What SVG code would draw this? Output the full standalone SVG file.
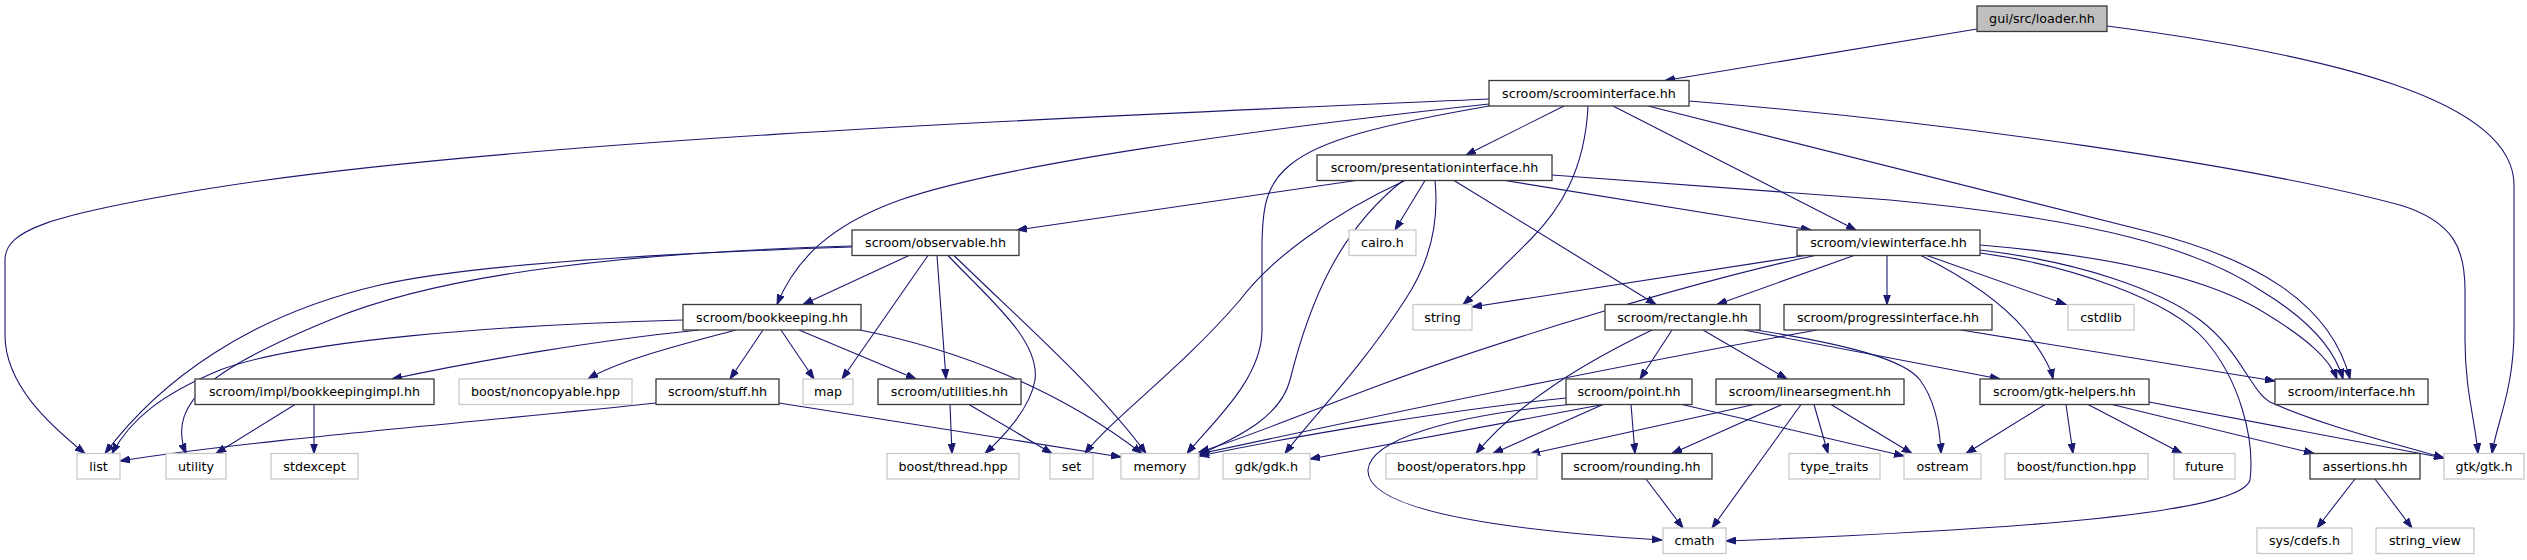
<svg xmlns="http://www.w3.org/2000/svg" width="2527" height="560" viewBox="0 0 2527 560">
<style>
.n rect{fill:#fff;stroke:#3a3a3a;stroke-width:1.3}
.x rect{fill:#fff;stroke:#c8c8c8;stroke-width:1.3}
.c rect{fill:#bfbfbf;stroke:#3a3a3a;stroke-width:1.3}
text{font-family:"DejaVu Sans",sans-serif;font-size:12.7px;fill:#000;text-anchor:middle}
#edges path{fill:none;stroke:#191970;stroke-width:1.1;marker-end:url(#a)}
</style>
<defs>
<marker id="a" markerWidth="11" markerHeight="8" refX="10" refY="4" orient="auto" markerUnits="userSpaceOnUse"><path d="M0,0.5 L10,4 L0,7.5 z" fill="#191970" stroke="#191970" stroke-width="1"/></marker>
</defs>
<rect width="2527" height="560" fill="#fff"/>
<g id="edges">
<path d="M1977,29 L1665,80.5"/>
<path d="M2107,26 C2330,55 2514,100 2514,185 L2514,330 C2514,390 2496,425 2492,453.5"/>
<path d="M1489,99 C1100,116 500,140 200,190 C50,215 5,230 5,260 L5,335 C5,385 50,425 85,453.5"/>
<path d="M1489,104 C1250,130 1000,165 900,200 C830,225 795,260 777,304.5"/>
<path d="M1489,106 C1380,125 1320,140 1290,165 C1265,185 1262,210 1262,250 L1262,330 C1262,380 1210,425 1187,453.5"/>
<path d="M1564,106 L1466,155"/>
<path d="M1588,106 C1585,170 1560,210 1530,240 C1500,270 1480,290 1463,304.5"/>
<path d="M1613,106 L1856,230"/>
<path d="M1648,106 L2150,232 C2250,258 2330,300 2350,379"/>
<path d="M1689,101 C1950,122 2250,165 2400,205 C2455,222 2465,250 2465,290 L2465,340 C2465,390 2475,420 2478,453.5"/>
<path d="M1356,180.5 L1017,230"/>
<path d="M1405,180.5 C1330,215 1270,260 1240,300 C1180,370 1110,420 1085,453.5"/>
<path d="M1403,180.5 C1340,230 1310,300 1290,380 C1280,420 1230,440 1199,455"/>
<path d="M1425,180.5 L1395,230"/>
<path d="M1435,180.5 C1440,230 1425,270 1405,300 C1360,370 1310,420 1285,453.5"/>
<path d="M1454,180.5 L1656,304.5"/>
<path d="M1505,180.5 L1811,230"/>
<path d="M1552,175 L1890,200 C2100,220 2200,250 2260,290 C2310,320 2335,350 2343,379"/>
<path d="M1980,245 C2100,255 2200,275 2260,310 C2310,340 2330,360 2337,379"/>
<path d="M1980,250 C2080,262 2160,290 2200,320 C2240,350 2250,390 2270,402 C2320,425 2400,445 2444,458"/>
<path d="M1980,253 C2070,265 2170,300 2205,340 C2240,380 2255,440 2250,480 C2240,515 2000,530 1726,541"/>
<path d="M1921,255.5 C1960,275 2000,300 2025,330 C2040,350 2050,365 2053,379"/>
<path d="M1927,255.5 L2066,304.5"/>
<path d="M1887,255.5 L1887,304.5"/>
<path d="M1854,255.5 L1717,304.5"/>
<path d="M1805,255.5 L1472,307"/>
<path d="M1815,255.5 C1700,280 1500,340 1380,385 C1300,415 1240,440 1199,452"/>
<path d="M909,255.5 L803,304.5"/>
<path d="M928,255.5 L842,379"/>
<path d="M937,255.5 L946,379"/>
<path d="M948,255.5 C990,300 1040,340 1035,380 C1030,410 1000,440 985,453.5"/>
<path d="M954,255.5 C1020,320 1100,390 1146,453.5"/>
<path d="M852,247 C700,252 480,262 380,285 C250,315 160,380 105,453.5"/>
<path d="M852,246 C650,252 450,270 330,320 C220,365 165,400 186,453.5"/>
<path d="M683,320 C500,325 300,340 220,370 C160,395 130,420 112,453.5"/>
<path d="M699,330 C600,340 480,360 392,379"/>
<path d="M736,330 C680,345 620,360 588,379"/>
<path d="M763,330 L730,379"/>
<path d="M781,330 L814,379"/>
<path d="M799,330 L916,379"/>
<path d="M860,330 C960,350 1060,390 1142,453.5"/>
<path d="M295,404.5 L216,453.5"/>
<path d="M314,404.5 L314,453.5"/>
<path d="M656,403 C500,420 250,440 120,461"/>
<path d="M779,403 L1121,457"/>
<path d="M950,404.5 L952,453.5"/>
<path d="M969,404.5 L1052,453.5"/>
<path d="M1652,330 C1590,360 1520,400 1476,453.5"/>
<path d="M1672,330 L1640,379"/>
<path d="M1703,330 L1787,379"/>
<path d="M1744,330 L2000,379"/>
<path d="M1756,330 C1850,345 1905,360 1920,380 C1935,400 1940,430 1941,453.5"/>
<path d="M1961,330 L2275,381"/>
<path d="M1817,330 C1650,360 1450,400 1199,454"/>
<path d="M1566,398 C1450,410 1300,435 1199,456"/>
<path d="M1603,404.5 L1310,459"/>
<path d="M1603,404.5 L1493,453.5"/>
<path d="M1631,404.5 L1635,453.5"/>
<path d="M1682,404.5 L1904,456"/>
<path d="M1570,404.5 C1450,415 1370,440 1368,470 C1366,510 1500,530 1662,540"/>
<path d="M1754,404.5 L1530,454"/>
<path d="M1782,404.5 L1672,453.5"/>
<path d="M1801,404.5 L1712,528"/>
<path d="M1814,404.5 L1828,453.5"/>
<path d="M1831,404.5 L1912,453.5"/>
<path d="M1646,479 L1683,528"/>
<path d="M2045,404.5 L1966,453.5"/>
<path d="M2066,404.5 L2073,453.5"/>
<path d="M2088,404.5 L2182,453.5"/>
<path d="M2112,404.5 L2314,453.5"/>
<path d="M2149,402 L2444,458"/>
<path d="M2355,479 L2317,528"/>
<path d="M2375,479 L2412,528"/>
</g>
<g id="n_loader" class="c"><rect x="1977" y="6" width="130" height="25.5"/><text x="2042" y="23">gui/src/loader.hh</text></g>
<g id="n_scroominterface" class="n"><rect x="1489" y="80.5" width="200" height="25.5"/><text x="1589" y="97.5">scroom/scroominterface.hh</text></g>
<g id="n_presentationinterface" class="n"><rect x="1317" y="155" width="235" height="25.5"/><text x="1434.5" y="172">scroom/presentationinterface.hh</text></g>
<g id="n_observable" class="n"><rect x="852" y="230" width="167" height="25.5"/><text x="935.5" y="247">scroom/observable.hh</text></g>
<g id="n_cairo" class="x"><rect x="1349" y="230" width="67" height="25.5"/><text x="1382.5" y="247">cairo.h</text></g>
<g id="n_viewinterface" class="n"><rect x="1797" y="230" width="183" height="25.5"/><text x="1888.5" y="247">scroom/viewinterface.hh</text></g>
<g id="n_bookkeeping" class="n"><rect x="683" y="304.5" width="178" height="25.5"/><text x="772" y="321.5">scroom/bookkeeping.hh</text></g>
<g id="n_string" class="x"><rect x="1413" y="304.5" width="59" height="25.5"/><text x="1442.5" y="321.5">string</text></g>
<g id="n_rectangle" class="n"><rect x="1605" y="304.5" width="155" height="25.5"/><text x="1682.5" y="321.5">scroom/rectangle.hh</text></g>
<g id="n_progressinterface" class="n"><rect x="1784" y="304.5" width="208" height="25.5"/><text x="1888" y="321.5">scroom/progressinterface.hh</text></g>
<g id="n_cstdlib" class="x"><rect x="2068" y="304.5" width="66" height="25.5"/><text x="2101" y="321.5">cstdlib</text></g>
<g id="n_bookkeepingimpl" class="n"><rect x="195" y="379" width="239" height="25.5"/><text x="314.5" y="396">scroom/impl/bookkeepingimpl.hh</text></g>
<g id="n_noncopyable" class="x"><rect x="459" y="379" width="173" height="25.5"/><text x="545.5" y="396">boost/noncopyable.hpp</text></g>
<g id="n_stuff" class="n"><rect x="656" y="379" width="123" height="25.5"/><text x="717.5" y="396">scroom/stuff.hh</text></g>
<g id="n_map" class="x"><rect x="803" y="379" width="50" height="25.5"/><text x="828" y="396">map</text></g>
<g id="n_utilities" class="n"><rect x="878" y="379" width="143" height="25.5"/><text x="949.5" y="396">scroom/utilities.hh</text></g>
<g id="n_point" class="n"><rect x="1566" y="379" width="126" height="25.5"/><text x="1629" y="396">scroom/point.hh</text></g>
<g id="n_linearsegment" class="n"><rect x="1716" y="379" width="188" height="25.5"/><text x="1810" y="396">scroom/linearsegment.hh</text></g>
<g id="n_gtkhelpers" class="n"><rect x="1980" y="379" width="169" height="25.5"/><text x="2064.5" y="396">scroom/gtk-helpers.hh</text></g>
<g id="n_interface" class="n"><rect x="2275" y="379" width="153" height="25.5"/><text x="2351.5" y="396">scroom/interface.hh</text></g>
<g id="n_list" class="x"><rect x="77" y="453.5" width="43" height="25.5"/><text x="98.5" y="470.5">list</text></g>
<g id="n_utility" class="x"><rect x="166" y="453.5" width="60" height="25.5"/><text x="196" y="470.5">utility</text></g>
<g id="n_stdexcept" class="x"><rect x="271" y="453.5" width="87" height="25.5"/><text x="314.5" y="470.5">stdexcept</text></g>
<g id="n_thread" class="x"><rect x="887" y="453.5" width="132" height="25.5"/><text x="953" y="470.5">boost/thread.hpp</text></g>
<g id="n_set" class="x"><rect x="1050" y="453.5" width="43" height="25.5"/><text x="1071.5" y="470.5">set</text></g>
<g id="n_memory" class="x"><rect x="1121" y="453.5" width="78" height="25.5"/><text x="1160" y="470.5">memory</text></g>
<g id="n_gdk" class="x"><rect x="1223" y="453.5" width="87" height="25.5"/><text x="1266.5" y="470.5">gdk/gdk.h</text></g>
<g id="n_operators" class="x"><rect x="1386" y="453.5" width="151" height="25.5"/><text x="1461.5" y="470.5">boost/operators.hpp</text></g>
<g id="n_rounding" class="n"><rect x="1562" y="453.5" width="150" height="25.5"/><text x="1637" y="470.5">scroom/rounding.hh</text></g>
<g id="n_typetraits" class="x"><rect x="1789" y="453.5" width="91" height="25.5"/><text x="1834.5" y="470.5">type_traits</text></g>
<g id="n_ostream" class="x"><rect x="1904" y="453.5" width="77" height="25.5"/><text x="1942.5" y="470.5">ostream</text></g>
<g id="n_function" class="x"><rect x="2005" y="453.5" width="143" height="25.5"/><text x="2076.5" y="470.5">boost/function.hpp</text></g>
<g id="n_future" class="x"><rect x="2174" y="453.5" width="61" height="25.5"/><text x="2204.5" y="470.5">future</text></g>
<g id="n_assertions" class="n"><rect x="2310" y="453.5" width="110" height="25.5"/><text x="2365" y="470.5">assertions.hh</text></g>
<g id="n_gtk" class="x"><rect x="2444" y="453.5" width="80" height="25.5"/><text x="2484" y="470.5">gtk/gtk.h</text></g>
<g id="n_cmath" class="x"><rect x="1663" y="528" width="63" height="25.5"/><text x="1694.5" y="545">cmath</text></g>
<g id="n_cdefs" class="x"><rect x="2257" y="528" width="95" height="25.5"/><text x="2304.5" y="545">sys/cdefs.h</text></g>
<g id="n_stringview" class="x"><rect x="2376" y="528" width="98" height="25.5"/><text x="2425" y="545">string_view</text></g>
</svg>
